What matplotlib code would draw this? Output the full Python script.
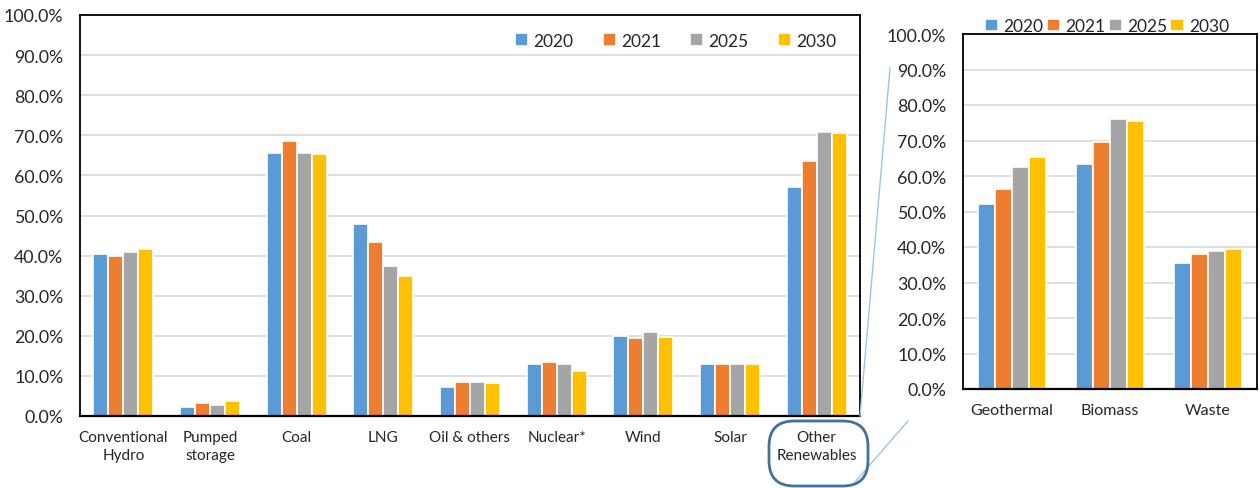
import numpy as np
import matplotlib
matplotlib.use("Agg")
import matplotlib.pyplot as plt
from matplotlib.patches import FancyBboxPatch
from matplotlib.lines import Line2D
from matplotlib.ticker import PercentFormatter

plt.rcParams['font.family'] = ['Lato', 'DejaVu Sans']

years = ["2020", "2021", "2025", "2030"]
colors = ["#5B9BD5", "#ED7D31", "#A5A5A5", "#FFC000"]

sources = ["Conventional\nHydro", "Pumped\nstorage", "Coal", "LNG", "Oil & others",
           "Nuclear*", "Wind", "Solar", "Other\nRenewables"]
util_2020 = [40.4, 2.2, 65.5, 47.8, 7.2, 13.0, 20.0, 13.0, 57.2]
util_2021 = [40.0, 3.2, 68.7, 43.5, 8.5, 13.5, 19.4, 13.0, 63.5]
util_2025 = [40.9, 2.8, 65.5, 37.5, 8.5, 12.9, 20.9, 13.0, 70.9]
util_2030 = [41.7, 3.8, 65.3, 34.9, 8.2, 11.1, 19.7, 12.9, 70.5]

other_renewables = ["Geothermal", "Biomass", "Waste"]
other_2020 = [52.1, 63.5, 35.6]
other_2021 = [56.2, 69.5, 38.1]
other_2025 = [62.4, 76.1, 39.0]
other_2030 = [65.3, 75.4, 39.4]

W, H = 1260, 489
fig = plt.figure(figsize=(W / 100, H / 100), dpi=100)
text_color = "#262626"


def bar_panel(ax, cats, series, group_width):
    x = np.arange(len(cats))
    n = len(series)
    slot = group_width / n
    for i, (vals, c, lab) in enumerate(zip(series, colors, years)):
        ax.bar(x - group_width / 2 + slot * (i + 0.5), vals, width=slot,
               color=c, edgecolor="white", linewidth=1.2, label=lab, zorder=3)
    ax.set_xlim(-0.5, len(cats) - 0.5)
    ax.set_ylim(0, 100)
    ax.set_yticks(np.arange(0, 101, 10))
    ax.yaxis.set_major_formatter(PercentFormatter(decimals=1))
    ax.grid(axis="y", color="#D9D9D9", linewidth=1.2, zorder=0)
    ax.set_axisbelow(True)
    ax.set_xticks(x)
    ax.set_xticklabels(cats, linespacing=1.35)
    ax.tick_params(axis="both", length=0, colors=text_color)
    ax.tick_params(axis="y", pad=12, labelsize=12.8)
    ax.tick_params(axis="x", pad=10, labelsize=11)
    for s in ax.spines.values():
        s.set_color("black")
        s.set_linewidth(1.3)
        s.set_zorder(6)
    ax.spines["bottom"].set_linewidth(1.6)


# Main panel: all generation sources
ax1 = fig.add_axes([80 / W, (H - 417) / H, 780 / W, 401 / H])
bar_panel(ax1, sources, [util_2020, util_2021, util_2025, util_2030], 0.69)
ax1.legend(loc="upper right", ncol=4, frameon=False, fontsize=12.5,
           handlelength=0.75, handleheight=0.75, handletextpad=0.3,
           columnspacing=1.7, bbox_to_anchor=(0.99, 0.995),
           labelcolor=text_color)

# Detail panel: breakdown of other renewables
ax2 = fig.add_axes([963 / W, (H - 390) / H, 294 / W, 355 / H])
bar_panel(ax2, other_renewables, [other_2020, other_2021, other_2025, other_2030], 0.70)
ax2.tick_params(axis="x", labelsize=11.5)
ax2.legend(loc="lower center", ncol=4, frameon=False, fontsize=12.5,
           handlelength=0.75, handleheight=0.75, handletextpad=0.3,
           columnspacing=0.2, bbox_to_anchor=(0.49, 0.98), borderaxespad=0,
           labelcolor=text_color)


def px(x, y):
    return x / W, 1 - y / H


# Callout box around the "Other Renewables" label
x0, y0 = px(769, 487)
x1, y1 = px(868, 422)
box = FancyBboxPatch((x0, y0), x1 - x0, y1 - y0,
                     boxstyle="round,pad=0,rounding_size=0.02",
                     transform=fig.transFigure, facecolor="none",
                     edgecolor="#41719C", linewidth=2.0, zorder=5)
box.set_mutation_aspect(W / H)
fig.add_artist(box)

# Zoom connector lines toward the detail panel
for (ax_, ay_), (bx_, by_) in [((860, 417), (890, 69)), ((855, 483), (908, 422))]:
    a, b = px(ax_, ay_), px(bx_, by_)
    fig.add_artist(Line2D([a[0], b[0]], [a[1], b[1]], transform=fig.transFigure,
                          color="#9DC3E6", linewidth=1.0, zorder=4))

fig.savefig("out.png", dpi=100)
